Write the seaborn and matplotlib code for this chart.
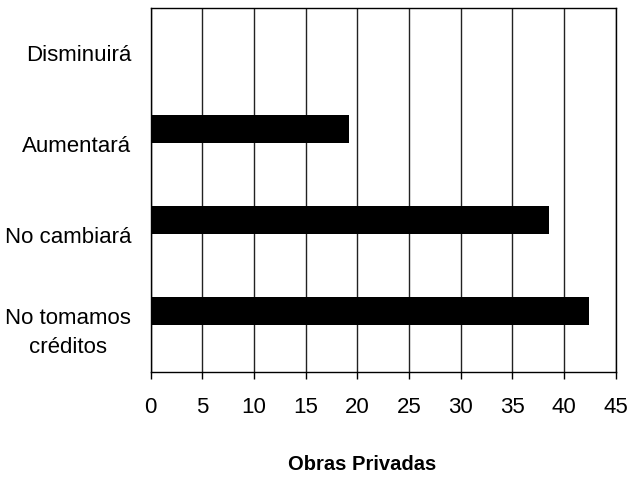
import numpy as np
import pandas as pd
import matplotlib
matplotlib.use('Agg')
import matplotlib.pyplot as plt
import seaborn as sb

categories = ['Disminuirá', 'Aumentará', 'No cambiará', 'No tomamos\ncréditos']
values = [0, 19.2, 38.5, 42.4]
x_ticks = [0, 5, 10, 15, 20, 25, 30, 35, 40, 45]

df = pd.DataFrame({'CAT': categories, 'VAL': values})

sb.set_style('white')
plt.rcParams['font.family'] = ['Liberation Sans', 'DejaVu Sans']
plt.rcParams['text.color'] = 'black'
plt.rcParams['xtick.color'] = 'black'
plt.rcParams['ytick.color'] = 'black'

fig = plt.figure(figsize=(6.29, 4.8), dpi=100)
ax = fig.add_axes([0.2396, 0.2256, 0.7393, 0.7577])

sb.barplot(data=df, y='CAT', x='VAL', color='black', width=0.31,
           saturation=1, linewidth=0, ax=ax, zorder=3)

# labels sit a bit lower than the bars, like the original
off = 0.165
ax.set_yticks(np.arange(len(categories)) + off)
ax.set_yticklabels(categories, fontsize=16, linespacing=1.5, color='black')
for lbl in ax.get_yticklabels():
    lbl.set_multialignment('center')
ax.set_ylim(len(categories) - 0.5 + off, -0.5 + off)

ax.set_xlim(0, 45)
ax.set_xticks(x_ticks)
ax.set_xticklabels([str(t) for t in x_ticks], fontsize=16, color='black')
ax.xaxis.grid(True, color='#222222', linewidth=1, zorder=0)
ax.yaxis.grid(False)
ax.tick_params(axis='x', direction='out', length=5, width=1, color='black', pad=13, bottom=True)
ax.tick_params(axis='y', length=0, pad=14)

for s in ax.spines.values():
    s.set_color('black')
    s.set_linewidth(1)
    s.set_visible(True)

ax.set_ylabel('')
ax.set_xlabel('')
fig.text(362 / 629, 1 - 465 / 480, 'Obras Privadas', fontsize=14.5, fontweight='bold',
         ha='center', va='center', color='black')

plt.savefig('out.png', dpi=100)
